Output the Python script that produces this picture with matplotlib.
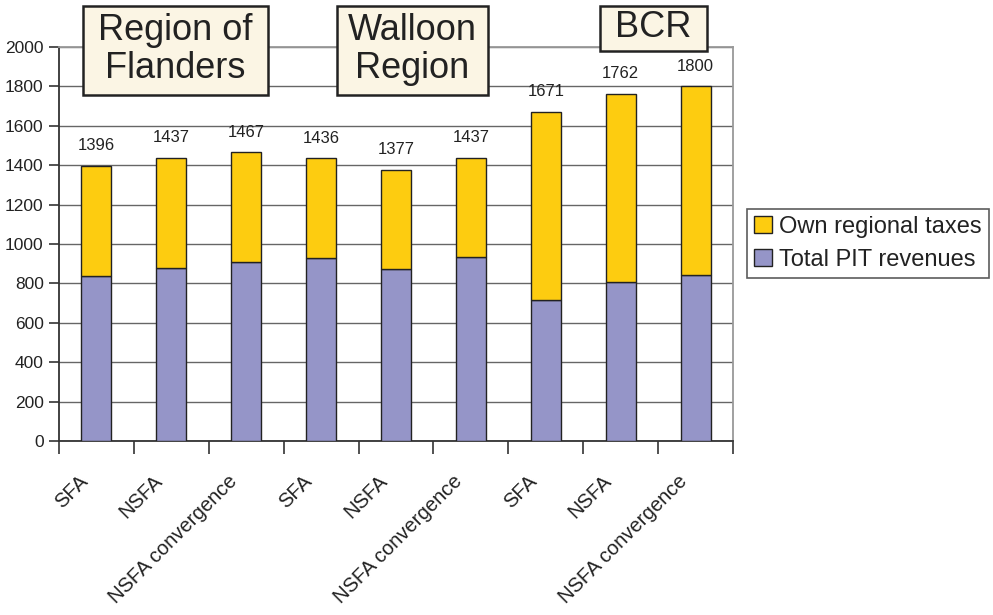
import matplotlib
matplotlib.use("Agg")
import matplotlib.pyplot as plt
from matplotlib.patches import Rectangle, Patch
from matplotlib.transforms import ScaledTranslation
import numpy as np

plt.rcParams['font.family'] = ['Liberation Sans', 'DejaVu Sans']

categories = ["SFA", "NSFA", "NSFA convergence",
              "SFA", "NSFA", "NSFA convergence",
              "SFA", "NSFA", "NSFA convergence"]
pit_revenues = [839, 880, 908, 930, 874, 934, 717, 808, 845]
own_taxes = [557, 557, 559, 506, 503, 503, 954, 954, 955]
totals = [1396, 1437, 1467, 1436, 1377, 1437, 1671, 1762, 1800]
region_titles = ["Region of\nFlanders", "Walloon\nRegion", "BCR"]
yticks = [0, 200, 400, 600, 800, 1000, 1200, 1400, 1600, 1800, 2000]

YELLOW = "#FDCC10"
PURPLE = "#9595C8"

W, H = 993, 615
fig = plt.figure(figsize=(W / 100, H / 100), dpi=100)
ax = fig.add_axes([59 / W, 1 - 441 / H, (733 - 59) / W, (441 - 47) / H])

x = np.arange(len(categories))
ax.bar(x, pit_revenues, width=0.4, color=PURPLE, edgecolor="#222222", linewidth=1.0, zorder=3)
ax.bar(x, own_taxes, width=0.4, bottom=pit_revenues, color=YELLOW, edgecolor="#222222",
       linewidth=1.0, zorder=3)

for xi, t in zip(x, totals):
    ax.annotate(str(t), (xi, t), xytext=(0, 9), textcoords="offset points",
                ha="center", va="bottom", fontsize=12, color="#222222")

ax.set_xlim(-0.5, len(categories) - 0.5)
ax.set_ylim(0, 2000)
ax.set_yticks(yticks)
ax.set_yticklabels([str(v) for v in yticks], fontsize=12.5, color="#222222")
ax.yaxis.grid(True, color="#666666", linewidth=1.0, zorder=0)
ax.set_axisbelow(True)

ax.set_xticks(x)
ax.set_xticklabels(categories, rotation=45, ha="right", va="top", fontsize=14.5, color="#222222")
ax.tick_params(axis="x", which="major", length=0, pad=22)
ax.set_xticks(np.arange(-0.5, len(categories)), minor=True)
ax.tick_params(axis="x", which="minor", length=9, width=1.2, color="#333333", direction="out")
ax.tick_params(axis="y", length=7, width=1.2, color="#333333", direction="out", pad=4)
for lab in ax.get_xticklabels():
    lab.set_transform(lab.get_transform() + ScaledTranslation(-5 / 100, 0, fig.dpi_scale_trans))

for s in ["left", "bottom"]:
    ax.spines[s].set_color("#333333")
    ax.spines[s].set_linewidth(1.3)
for s in ["right", "top"]:
    ax.spines[s].set_color("#999999")
    ax.spines[s].set_linewidth(1.3)

# Region title boxes (figure pixel coordinates)
boxes = [(83, 6, 268, 95), (337, 6, 488, 95), (600, 6, 707, 51)]
for (x0, y0, x1, y1), title in zip(boxes, region_titles):
    rect = Rectangle((x0 / W, 1 - y1 / H), (x1 - x0) / W, (y1 - y0) / H,
                     transform=fig.transFigure, facecolor="#FBF5E4", edgecolor="#222222",
                     linewidth=1.8, zorder=5)
    fig.add_artist(rect)
    fig.text((x0 + x1) / 2 / W, 1 - (y0 + y1) / 2 / H + 0.002, title, ha="center", va="center",
             fontsize=26, color="#222222", linespacing=1.1, zorder=6)

handles = [Patch(facecolor=YELLOW, edgecolor="#222222", linewidth=1.0),
           Patch(facecolor=PURPLE, edgecolor="#222222", linewidth=1.0)]
leg = fig.legend(handles, ["Own regional taxes", "Total PIT revenues"],
                 loc="upper left", bbox_to_anchor=(747 / W, 1 - 209 / H),
                 fontsize=17, frameon=True, fancybox=False, shadow=False,
                 handlelength=0.75, handleheight=0.75, handletextpad=0.3,
                 borderpad=0.3, labelspacing=0.45, borderaxespad=0)
leg.get_frame().set_edgecolor("#333333")
leg.get_frame().set_linewidth(1.2)
for t in leg.get_texts():
    t.set_color("#222222")

fig.savefig("out.png", dpi=100)
